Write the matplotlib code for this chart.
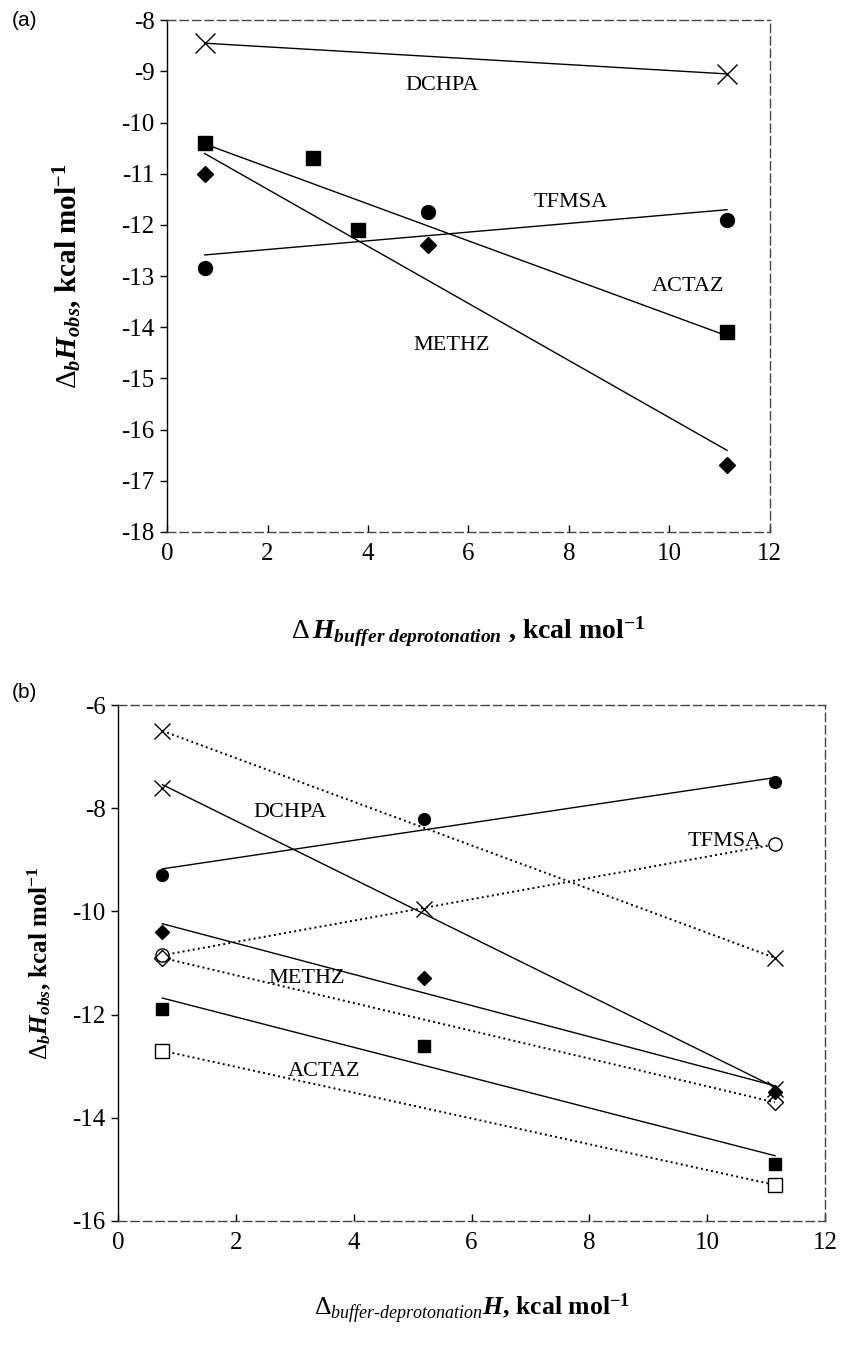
import numpy as np
import matplotlib.pyplot as plt

plt.rcParams['font.family'] = ['Liberation Serif', 'DejaVu Serif']
plt.rcParams['mathtext.fontset'] = 'custom'
plt.rcParams['mathtext.rm'] = 'Liberation Serif'
plt.rcParams['mathtext.it'] = 'Liberation Serif:italic'
plt.rcParams['mathtext.bf'] = 'Liberation Serif:bold'
plt.rcParams['mathtext.bfit'] = 'Liberation Serif:bold:italic'
plt.rcParams['axes.unicode_minus'] = False

# ---- painel (a) ----
a_dchpa_x = [0.75, 11.15]
a_dchpa_y = [-8.45, -9.05]
a_actaz_x = [0.75, 2.9, 3.8, 11.15]
a_actaz_y = [-10.4, -10.7, -12.1, -14.1]
a_methz_x = [0.75, 5.2, 11.15]
a_methz_y = [-11.0, -12.4, -16.7]
a_tfmsa_x = [0.75, 5.2, 11.15]
a_tfmsa_y = [-12.85, -11.75, -11.9]

# ---- painel (b) ---- cheio = linha continua, vazio = pontilhado
b_tfmsa_x = [0.75, 5.2, 11.15]
b_tfmsa_y = [-9.3, -8.2, -7.5]
b_tfmsa2_x = [0.75, 11.15]
b_tfmsa2_y = [-10.85, -8.7]
b_dchpa_x = [0.75, 5.2, 11.15]
b_dchpa_y = [-7.6, -9.95, -13.45]
b_dchpa2_x = [0.75, 11.15]
b_dchpa2_y = [-6.5, -10.9]
b_methz_x = [0.75, 5.2, 11.15]
b_methz_y = [-10.4, -11.3, -13.5]
b_methz2_x = [0.75, 11.15]
b_methz2_y = [-10.9, -13.7]
b_actaz_x = [0.75, 5.2, 11.15]
b_actaz_y = [-11.9, -12.6, -14.9]
b_actaz2_x = [0.75, 11.15]
b_actaz2_y = [-12.7, -15.3]


def ajuste(ax, x, y, ls='-', lw=1.0):
    # reta de minimos quadrados entre o primeiro e o ultimo ponto
    b, a = np.polyfit(x, y, 1)
    xs = np.array([min(x), max(x)])
    ax.plot(xs, a + b * xs, color='black', ls=ls, lw=lw, zorder=2)


def moldura(ax):
    for lado in ['top', 'right', 'bottom']:
        ax.spines[lado].set_linestyle((0, (6, 3)))
        ax.spines[lado].set_linewidth(1.0)
        ax.spines[lado].set_color('#444444')
    ax.spines['left'].set_linewidth(1.0)
    ax.tick_params(axis='y', direction='out', length=5, width=1, labelsize=18, pad=4)
    ax.tick_params(axis='x', direction='in', length=5, width=1, labelsize=18, pad=8)


fig = plt.figure(figsize=(8.44, 13.45), dpi=100)

# ================= (a) =================
ax1 = fig.add_axes([0.198, 0.6045, 0.714, 0.3805])
ax1.set_xlim(0, 12)
ax1.set_ylim(-18, -8)
ax1.set_xticks(range(0, 13, 2))
ax1.set_yticks(range(-18, -7))
moldura(ax1)

ajuste(ax1, a_dchpa_x, a_dchpa_y)
ajuste(ax1, a_actaz_x, a_actaz_y)
ajuste(ax1, a_methz_x, a_methz_y)
ajuste(ax1, a_tfmsa_x, a_tfmsa_y)
ax1.plot(a_dchpa_x, a_dchpa_y, 'x', color='black', ms=14, mew=1.0, zorder=3)
ax1.plot(a_actaz_x, a_actaz_y, 's', color='black', ms=10, zorder=3)
ax1.plot(a_methz_x, a_methz_y, 'D', color='black', ms=8.5, zorder=3)
ax1.plot(a_tfmsa_x, a_tfmsa_y, 'o', color='black', ms=10, zorder=3)

ax1.text(5.47, -9.27, 'DCHPA', fontsize=16, ha='center', va='center')
ax1.text(8.04, -11.57, 'TFMSA', fontsize=16, ha='center', va='center')
ax1.text(10.37, -13.2, 'ACTAZ', fontsize=16, ha='center', va='center')
ax1.text(5.67, -14.35, 'METHZ', fontsize=16, ha='center', va='center')

ax1.set_xlabel(r'$\mathit{\Delta}\,\mathbfit{H}_{\mathbfit{buffer\ deprotonation}}$ , kcal mol$^{\mathbf{-1}}$',
               fontsize=20, fontweight='bold', labelpad=36)
ax1.set_ylabel(r'$\mathit{\Delta}_{\mathbfit{b}}\mathbfit{H}_{\mathbfit{obs}}$, kcal mol$^{\mathbf{-1}}$',
               fontsize=21, fontweight='bold', labelpad=26)
fig.text(0.014, 0.985, '(a)', fontsize=15, family='Liberation Sans', va='center')

# ================= (b) =================
ax2 = fig.add_axes([0.140, 0.0922, 0.8375, 0.3836])
ax2.set_xlim(0, 12)
ax2.set_ylim(-16, -6)
ax2.set_xticks(range(0, 13, 2))
ax2.set_yticks(range(-16, -5, 2))
moldura(ax2)

ajuste(ax2, b_tfmsa_x, b_tfmsa_y)
ajuste(ax2, b_dchpa_x, b_dchpa_y)
ajuste(ax2, b_methz_x, b_methz_y)
ajuste(ax2, b_actaz_x, b_actaz_y)
ajuste(ax2, b_tfmsa2_x, b_tfmsa2_y, ls=':', lw=1.4)
ajuste(ax2, b_dchpa2_x, b_dchpa2_y, ls=':', lw=1.4)
ajuste(ax2, b_methz2_x, b_methz2_y, ls=':', lw=1.4)
ajuste(ax2, b_actaz2_x, b_actaz2_y, ls=':', lw=1.4)

ax2.plot(b_tfmsa_x, b_tfmsa_y, 'o', color='black', ms=8.5, zorder=3)
ax2.plot(b_dchpa_x, b_dchpa_y, 'x', color='black', ms=12, mew=1.0, zorder=3)
ax2.plot(b_methz_x, b_methz_y, 'D', color='black', ms=7.5, zorder=4)
ax2.plot(b_actaz_x, b_actaz_y, 's', color='black', ms=8.5, zorder=3)
ax2.plot(b_tfmsa2_x, b_tfmsa2_y, 'o', mfc='white', mec='black', ms=9.5, mew=1.0, zorder=3)
ax2.plot(b_dchpa2_x, b_dchpa2_y, 'x', color='black', ms=12, mew=1.0, zorder=3)
ax2.plot(b_methz2_x, b_methz2_y, 'D', mfc='none', mec='black', ms=8.5, mew=1.0, zorder=3)
ax2.plot(b_actaz2_x, b_actaz2_y, 's', mfc='white', mec='black', ms=9.5, mew=1.0, zorder=3)

ax2.text(2.92, -8.09, 'DCHPA', fontsize=16, ha='center', va='center')
ax2.text(10.3, -8.65, 'TFMSA', fontsize=16, ha='center', va='center')
ax2.text(3.2, -11.3, 'METHZ', fontsize=16, ha='center', va='center')
ax2.text(3.5, -13.1, 'ACTAZ', fontsize=16, ha='center', va='center')

ax2.set_xlabel(r'$\Delta_{\mathit{buffer‐deprotonation}}\mathbfit{H}$, kcal mol$^{\mathbf{-1}}$',
               fontsize=18.5, fontweight='bold', labelpad=27)
ax2.set_ylabel(r'$\Delta_{\mathbfit{b}}\mathbfit{H}_{\mathbfit{obs}}$, kcal mol$^{\mathbf{-1}}$',
               fontsize=18, fontweight='bold', labelpad=14)
fig.text(0.014, 0.485, '(b)', fontsize=15, family='Liberation Sans', va='center')

fig.savefig('out.png', dpi=100)
